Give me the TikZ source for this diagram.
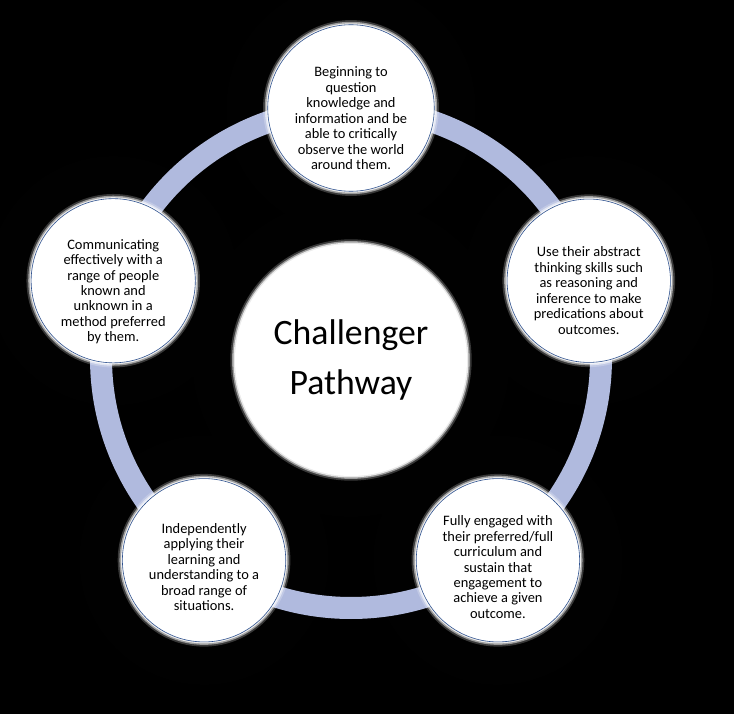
\documentclass[tikz,border=0pt]{standalone}
\usepackage{fontspec}
\setmainfont{Carlito}
\usepackage{xcolor}
\definecolor{ringblue}{RGB}{176,186,222}
\definecolor{edgeblue}{RGB}{47,82,143}
\usepackage{tikz}
\usetikzlibrary{positioning}

\begin{document}
\begin{tikzpicture}[
    glow/.style ={preaction={draw=white, opacity=0.22, line width=8pt},
                  preaction={draw=white, opacity=0.5, line width=5pt},
                  preaction={draw=white, opacity=0.8, line width=2.5pt}},
    stage/.style ={circle, glow, draw=edgeblue, line width=0.5pt, fill=white,
                   minimum size=4.9cm, inner sep=0pt,
                   font=\fontsize{12.3}{13.2}\selectfont, align=center},
    hub/.style ={circle, glow, fill=white,
                   minimum size=6.96cm, inner sep=0pt,
                   font=\fontsize{30.5}{43}\selectfont, align=center},
    ring/.style ={draw=ringblue, line width=0.66cm}
]
\useasboundingbox[fill=black] (-10.53,-10.68) rectangle (11.49,10.74);

%% --- soft halo on the black ground ---
\foreach \a in {90,18,162,234,306}{
  \foreach \i in {1,...,16}
    \fill[white, opacity=0.005] (\a:7.5) circle ({2.45+0.08*\i});
}
\foreach \i in {1,...,16}
  \fill[white, opacity=0.005] (0,0) circle ({3.48+0.08*\i});

%% --- centre ---
\node[hub] (hub) at (0,-0.06) {Challenger\\Pathway};

%% --- ring behind the stages ---
\draw[ring] (0,0) circle (7.5cm);

%% --- the five stages (empty first line pushes the text down a little) ---
\node[stage] (question) at (90:7.5)
  {\\[13pt]Beginning to\\question\\knowledge and\\information and be\\able to critically\\observe the world\\around them.};
\node[stage] (abstract) at (18:7.5)
  {\\[12pt]Use their abstract\\thinking skills such\\as reasoning and\\inference to make\\predications about\\outcomes.};
\node[stage] (engaged) at (306:7.5)
  {\\[7pt]Fully engaged with\\their preferred/full\\curriculum and\\sustain that\\engagement to\\achieve a given\\outcome.};
\node[stage] (applying) at (234:7.5)
  {\\[7pt]Independently\\applying their\\learning and\\understanding to a\\broad range of\\situations.};
\node[stage] (communicating) at (162:7.5)
  {\\[14pt]Communicating\\effectively with a\\range of people\\known and\\unknown in a\\method preferred\\by them.};
\end{tikzpicture}
\end{document}
